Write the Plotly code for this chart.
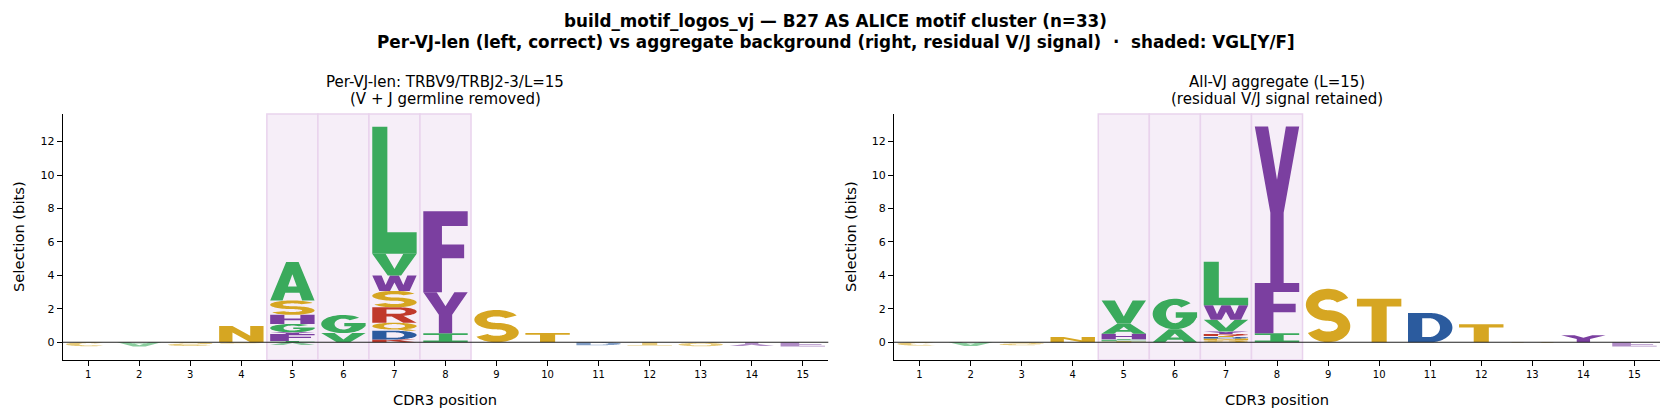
import numpy as np
import plotly.graph_objects as go

# ---------------- data ----------------
POSITIONS = list(range(1, 16))
SHADED = [5, 6, 7, 8]
Y_TICKS = [0, 2, 4, 6, 8, 10, 12]

# letters per position (positives stacked upward from 0 in list order,
# negatives stacked downward from 0 in list order)
LEFT_LETTERS = [
    ["C"], ["A"], ["S"], ["N", "S"],
    ["I", "F", "Y", "G", "H", "S", "A", "V"],
    ["V", "G"],
    ["K", "D", "Q", "R", "S", "W", "V", "L"],
    ["I", "Y", "F"],
    ["S"], ["T"], ["D"], ["T"], ["Q"], ["Y"], ["F"],
]
LEFT_BITS = [
    [-0.24], [-0.26], [-0.22], [0.97, -0.08],
    [0.08, 0.42, 0.10, 0.50, 0.54, 0.86, 2.30, -0.16],
    [0.55, 1.08],
    [0.17, 0.52, 0.48, 0.92, 0.98, 0.92, 1.30, 7.60],
    [0.54, 2.45, 4.84],
    [1.93], [0.55], [-0.18], [-0.20], [-0.24], [-0.22], [-0.26],
]

RIGHT_LETTERS = [
    ["C"], ["A"], ["S"], ["N"],
    ["T", "L", "I", "H", "A", "V"],
    ["A", "G"],
    ["Q", "N", "D", "T", "R", "Y", "V", "W", "L"],
    ["I", "F", "Y"],
    ["S"], ["T"], ["D"], ["T"], ["Q"], ["Y"], ["F"],
]
RIGHT_BITS = [
    [-0.20], [-0.22], [-0.18], [0.32],
    [0.06, 0.06, 0.06, 0.33, 0.62, 1.37],
    [0.78, 1.82],
    [0.12, 0.10, 0.10, 0.06, 0.12, 0.14, 0.70, 0.88, 2.60],
    [0.54, 3.00, 9.36],
    [3.20], [2.60], [1.75], [1.08], [-0.05], [0.42], [-0.26],
]

TITLE_1 = "build_motif_logos_vj \u2014 B27 AS ALICE motif cluster (n=33)"
TITLE_2 = "Per-VJ-len (left, correct) vs aggregate background (right, residual V/J signal)  \u00b7  shaded: VGL[Y/F]"
LEFT_TITLE = ["Per-VJ-len: TRBV9/TRBJ2-3/L=15", "(V + J germline removed)"]
RIGHT_TITLE = ["All-VJ aggregate (L=15)", "(residual V/J signal retained)"]
X_LABEL = "CDR3 position"
Y_LABEL = "Selection (bits)"

# ---------------- styles ----------------
GREEN, PURPLE, GOLD, BLUE, RED = "#3aaa5c", "#7b3fa0", "#d6a622", "#2b5b9e", "#c0392b"
COLORS = {}
for a in "AGVLIPM":
    COLORS[a] = GREEN
for a in "FWYH":
    COLORS[a] = PURPLE
for a in "STNQC":
    COLORS[a] = GOLD
for a in "DE":
    COLORS[a] = BLUE
for a in "RK":
    COLORS[a] = RED

LETTER_W = 0.87
FONT = "DejaVu Sans"
W, H = 1671, 419


# ---------------- glyph outlines (unit box) ----------------
def ell(cx, cy, rx, ry, t0, t1, n=48):
    t = np.radians(np.linspace(t0, t1, n))
    return list(zip(cx + rx * np.cos(t), cy + ry * np.sin(t)))


def band(cx, cy, rxc, ryc, tx, ty, t0, t1, n=48):
    return ell(cx, cy, rxc + tx, ryc + ty, t0, t1, n) + ell(cx, cy, rxc - tx, ryc - ty, t1, t0, n)


def s_glyph():
    uo = ell(0.5, 0.7, 0.5, 0.3, 25, 270)
    ui = ell(0.5, 0.7, 0.22, 0.1, 25, 270)
    lo = ell(0.5, 0.3, 0.5, 0.3, 90, -155)
    li = ell(0.5, 0.3, 0.22, 0.1, 90, -155)
    return [((uo + li) + (ui + lo)[::-1], False)]


GLYPHS = {
    "A": [([(0, 0), (0.28, 0), (0.34, 0.2), (0.66, 0.2), (0.72, 0), (1, 0), (0.64, 1), (0.36, 1)], False),
          ([(0.40, 0.36), (0.60, 0.36), (0.5, 0.68)], True)],
    "C": [(band(0.5, 0.5, 0.35, 0.4, 0.15, 0.1, 45, 315), False)],
    "D": [([(0, 0), (0.5, 0)] + ell(0.5, 0.5, 0.5, 0.5, -90, 90) + [(0, 1)], False),
          ([(0.32, 0.18), (0.48, 0.18)] + ell(0.48, 0.5, 0.24, 0.32, -90, 90) + [(0.32, 0.82)], True)],
    "E": [([(0, 0), (1, 0), (1, 0.18), (0.33, 0.18), (0.33, 0.42), (0.92, 0.42), (0.92, 0.59),
            (0.33, 0.59), (0.33, 0.82), (1, 0.82), (1, 1), (0, 1)], False)],
    "F": [([(0, 0), (0.42, 0), (0.42, 0.42), (0.92, 0.42), (0.92, 0.59), (0.42, 0.59),
            (0.42, 0.82), (1, 0.82), (1, 1), (0, 1)], False)],
    "G": [(band(0.5, 0.5, 0.35, 0.4, 0.15, 0.1, 45, 360), False),
          ([(0.52, 0.38), (1, 0.38), (1, 0.56), (0.52, 0.56)], False)],
    "H": [([(0, 0), (0.32, 0), (0.32, 0.41), (0.68, 0.41), (0.68, 0), (1, 0), (1, 1), (0.68, 1),
            (0.68, 0.59), (0.32, 0.59), (0.32, 1), (0, 1)], False)],
    "I": [([(0, 0), (1, 0), (1, 0.2), (0.65, 0.2), (0.65, 0.8), (1, 0.8), (1, 1), (0, 1),
            (0, 0.8), (0.35, 0.8), (0.35, 0.2), (0, 0.2)], False)],
    "K": [([(0, 0), (0.32, 0), (0.32, 0.35), (0.42, 0.46), (0.7, 0), (1, 0), (0.62, 0.63),
            (0.98, 1), (0.63, 1), (0.32, 0.66), (0.32, 1), (0, 1)], False)],
    "L": [([(0, 0), (1, 0), (1, 0.17), (0.34, 0.17), (0.34, 1), (0, 1)], False)],
    "N": [([(0, 0), (0.3, 0), (0.3, 0.6), (0.7, 0), (1, 0), (1, 1), (0.7, 1), (0.7, 0.4),
            (0.3, 1), (0, 1)], False)],
    "Q": [(ell(0.5, 0.57, 0.5, 0.43, 0, 360, 72), False),
          (ell(0.5, 0.57, 0.24, 0.26, 0, 360, 72), True),
          ([(0.58, 0.16), (0.76, 0.0), (1.0, 0.0), (0.8, 0.2)], False)],
    "R": [([(0, 0), (0.32, 0), (0.32, 0.4), (0.44, 0.4), (0.7, 0), (1, 0), (0.7, 0.46)]
           + ell(0.6, 0.72, 0.4, 0.28, -70, 90) + [(0, 1)], False),
          ([(0.32, 0.58), (0.58, 0.58)] + ell(0.58, 0.72, 0.17, 0.14, -90, 90) + [(0.32, 0.86)], True)],
    "S": s_glyph(),
    "T": [([(0, 0.82), (0, 1), (1, 1), (1, 0.82), (0.67, 0.82), (0.67, 0), (0.33, 0), (0.33, 0.82)], False)],
    "V": [([(0, 1), (0.3, 1), (0.5, 0.3), (0.7, 1), (1, 1), (0.65, 0), (0.35, 0)], False)],
    "W": [([(0, 1), (0.21, 1), (0.3, 0.38), (0.4, 1), (0.6, 1), (0.7, 0.38), (0.79, 1), (1, 1),
            (0.84, 0), (0.6, 0), (0.5, 0.55), (0.4, 0), (0.16, 0)], False)],
    "Y": [([(0, 1), (0.3, 1), (0.5, 0.66), (0.7, 1), (1, 1), (0.65, 0.45), (0.65, 0),
            (0.35, 0), (0.35, 0.45)], False)],
}


def signed_area(pts):
    a = 0.0
    for i in range(len(pts)):
        x0, y0 = pts[i]
        x1, y1 = pts[(i + 1) % len(pts)]
        a += x0 * y1 - x1 * y0
    return a / 2


def letter_path(letter, xc, ybase, h, flip):
    parts = []
    for pts, hole in GLYPHS[letter]:
        tp = []
        for u, v in pts:
            x = xc - LETTER_W / 2 + u * LETTER_W
            y = (ybase - v * h) if flip else (ybase + v * h)
            tp.append((x, y))
        a = signed_area(tp)
        if (a > 0) == hole:
            tp = tp[::-1]
        parts.append("M " + " L ".join(f"{x:.4f},{y:.4f}" for x, y in tp) + " Z")
    return " ".join(parts)


def logo_shapes(letters, bits, xr, yr):
    shapes = []
    for p, lets, vals in zip(POSITIONS, letters, bits):
        top, bot = 0.0, 0.0
        for a, v in zip(lets, vals):
            if v >= 0:
                path = letter_path(a, p, top, v, False)
                top += v
                op = 1.0
            else:
                path = letter_path(a, p, bot, -v, True)
                bot += v
                op = 0.6
            shapes.append(dict(type="path", path=path, xref=xr, yref=yr, fillcolor=COLORS[a],
                               line=dict(width=0), opacity=op, layer="above", fillrule="nonzero"))
    return shapes


fig = go.Figure()
for xr, yr in (("x", "y"), ("x2", "y2")):
    fig.add_trace(go.Scatter(x=POSITIONS, y=[0] * len(POSITIONS), mode="markers",
                             marker=dict(opacity=0), hoverinfo="skip", xaxis=xr, yaxis=yr,
                             showlegend=False))

shapes = []
for xr, yr in (("x", "y"), ("x2", "y2")):
    for p in SHADED:
        shapes.append(dict(type="rect", xref=xr, yref=yr + " domain", x0=p - 0.5, x1=p + 0.5,
                           y0=0, y1=1, fillcolor="#f6eef8", line=dict(color="#e9d3ed", width=1.5),
                           layer="below"))
shapes += logo_shapes(LEFT_LETTERS, LEFT_BITS, "x", "y")
shapes += logo_shapes(RIGHT_LETTERS, RIGHT_BITS, "x2", "y2")
for xr, yr in (("x", "y"), ("x2", "y2")):
    shapes.append(dict(type="line", xref=xr + " domain", yref=yr, x0=0, x1=1, y0=0, y1=0,
                       line=dict(color="#222222", width=1.2), layer="above"))

dom_l = [62.7 / W, 828.3 / W]
dom_r = [894 / W, 1660 / W]
dom_y = [(H - 360) / H, (H - 114) / H]

xa = dict(range=[0.5, 15.5], tickmode="array", tickvals=POSITIONS, ticks="outside", ticklen=5,
          tickwidth=1, tickcolor="black", showline=True, linecolor="black", linewidth=1,
          showgrid=False, zeroline=False, tickfont=dict(size=10, family=FONT, color="black"),
          fixedrange=True)
ya = dict(range=[-1.06, 13.65], tickmode="array", tickvals=Y_TICKS, ticks="outside", ticklen=5,
          tickwidth=1, tickcolor="black", showline=True, linecolor="black", linewidth=1,
          showgrid=False, zeroline=False, tickfont=dict(size=11, family=FONT, color="black"),
          fixedrange=True)

fig.update_layout(
    width=W, height=H, margin=dict(l=0, r=0, t=0, b=0),
    paper_bgcolor="white", plot_bgcolor="white", showlegend=False,
    font=dict(family=FONT, color="black"),
    xaxis=dict(xa, domain=dom_l, anchor="y"),
    yaxis=dict(ya, domain=dom_y, anchor="x"),
    xaxis2=dict(xa, domain=dom_r, anchor="y2"),
    yaxis2=dict(ya, domain=dom_y, anchor="x2"),
    shapes=shapes,
)


def ann(text, xpx, ypx, size, bold=False, angle=0):
    return dict(text=f"<b>{text}</b>" if bold else text, x=xpx / W, y=1 - ypx / H,
                xref="paper", yref="paper", xanchor="center", yanchor="middle",
                showarrow=False, textangle=angle, font=dict(size=size, family=FONT, color="black"))


annotations = [
    ann(TITLE_1, W / 2, 21, 16.8, bold=True),
    ann(TITLE_2, W / 2, 42, 16.8, bold=True),
]
cl = (dom_l[0] + dom_l[1]) / 2 * W
cr = (dom_r[0] + dom_r[1]) / 2 * W
annotations += [ann(LEFT_TITLE[0], cl, 82, 15), ann(LEFT_TITLE[1], cl, 99, 15),
                ann(RIGHT_TITLE[0], cr, 82, 15), ann(RIGHT_TITLE[1], cr, 99, 15)]
annotations += [ann(X_LABEL, cl, 399, 14.7), ann(X_LABEL, cr, 399, 14.7),
                ann(Y_LABEL, 18, 237, 14.7, angle=-90), ann(Y_LABEL, 850, 237, 14.7, angle=-90)]
fig.update_layout(annotations=annotations)

fig.write_html("out.html")
